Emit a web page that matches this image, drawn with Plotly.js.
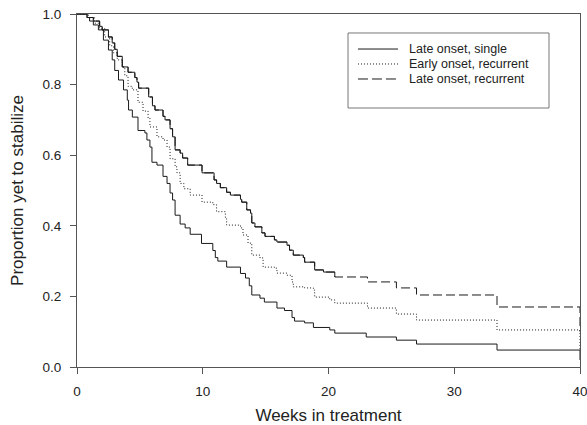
<!DOCTYPE html>
<html>
<head>
<meta charset="utf-8">
<script src="https://cdn.plot.ly/plotly-3.0.1.min.js"></script>
<style>html,body{margin:0;padding:0;background:#fff;}#chart{width:587px;height:425px;}</style>
</head>
<body>
<div id="chart"></div>
<script>
// Late onset, single (solid)
const weeksSingle = [0, 0.8, 1.0, 1.3, 1.7, 2.1, 2.5, 2.8, 3.0, 3.3, 3.7, 4.0, 4.1, 4.4, 4.85, 5.4, 5.56, 5.8, 5.96, 6.36, 6.84, 7.16, 7.4, 7.6, 7.8, 8.2, 8.6, 9.0, 9.9, 10.8, 11.0, 11.2, 11.9, 13.0, 13.4, 13.7, 13.9, 14.55, 14.9, 15.9, 16.5, 17.1, 17.3, 18.1, 18.8, 20.1, 20.5, 23.0, 25.4, 27.0, 33.4, 40];
const propSingle  = [1.0, 0.99, 0.98, 0.969, 0.955, 0.926, 0.898, 0.87, 0.84, 0.813, 0.785, 0.756, 0.728, 0.708, 0.67, 0.663, 0.643, 0.623, 0.58, 0.572, 0.54, 0.52, 0.493, 0.473, 0.43, 0.405, 0.394, 0.376, 0.35, 0.33, 0.31, 0.30, 0.283, 0.265, 0.252, 0.23, 0.204, 0.195, 0.184, 0.167, 0.16, 0.14, 0.13, 0.125, 0.112, 0.105, 0.096, 0.085, 0.076, 0.065, 0.048, 0.02];

// Early onset, recurrent (dotted)
const weeksEarly = [0, 0.9, 1.4, 1.8, 2.2, 2.6, 2.9, 3.2, 3.6, 3.8, 4.06, 4.4, 4.85, 5.25, 5.65, 5.8, 6.36, 6.84, 7.16, 7.4, 7.8, 7.95, 8.2, 8.5, 9.0, 9.94, 10.8, 11.1, 11.8, 11.9, 13.0, 13.2, 13.6, 13.9, 14.55, 14.8, 15.7, 15.9, 16.7, 17.1, 17.2, 18.1, 18.8, 18.9, 20.1, 20.5, 23.1, 25.4, 27.0, 33.4, 40];
const propEarly  = [1.0, 0.99, 0.974, 0.96, 0.935, 0.91, 0.89, 0.87, 0.85, 0.825, 0.795, 0.785, 0.75, 0.725, 0.705, 0.68, 0.652, 0.643, 0.623, 0.59, 0.567, 0.55, 0.52, 0.505, 0.487, 0.467, 0.46, 0.44, 0.42, 0.402, 0.394, 0.374, 0.351, 0.317, 0.309, 0.283, 0.28, 0.266, 0.26, 0.241, 0.227, 0.224, 0.218, 0.198, 0.19, 0.181, 0.167, 0.15, 0.133, 0.105, 0.05];

// Late onset, recurrent (dashed)
const weeksRecur = [0, 0.8, 1.3, 1.8, 2.0, 2.5, 2.8, 3.0, 3.2, 3.6, 4.06, 4.6, 4.77, 4.9, 5.7, 6.0, 6.2, 6.84, 7.0, 7.4, 7.6, 7.8, 8.2, 8.4, 8.8, 9.94, 10.9, 11.1, 11.4, 11.9, 12.2, 13.0, 13.1, 13.5, 13.8, 13.9, 14.15, 14.7, 14.95, 15.7, 15.9, 16.7, 16.9, 17.2, 18.0, 18.1, 18.9, 19.6, 20.5, 23.1, 25.4, 27.0, 33.4, 40];
const propRecur  = [1.0, 0.99, 0.98, 0.965, 0.955, 0.935, 0.918, 0.9, 0.88, 0.85, 0.835, 0.82, 0.807, 0.79, 0.765, 0.74, 0.728, 0.71, 0.7, 0.675, 0.652, 0.615, 0.606, 0.592, 0.572, 0.55, 0.53, 0.52, 0.508, 0.495, 0.487, 0.475, 0.467, 0.445, 0.436, 0.408, 0.397, 0.38, 0.37, 0.36, 0.354, 0.345, 0.331, 0.317, 0.31, 0.297, 0.275, 0.269, 0.255, 0.241, 0.224, 0.204, 0.17, 0.1];

const seriesNames = ["Late onset, single", "Early onset, recurrent", "Late onset, recurrent"];
const xTicks = [0, 10, 20, 30, 40];
const yTicks = [0.0, 0.2, 0.4, 0.6, 0.8, 1.0];

// the dense early part of the dashed curve looks solid in the original
const denseEnd = weeksRecur.indexOf(20.5) + 1;

const ink = "#1a1a1a";
const dashes = ["solid", "1px,2px", "9px,4px"];
const traces = [
  {x: weeksSingle, y: propSingle, name: seriesNames[0], mode: "lines", showlegend: false,
   line: {shape: "hv", color: ink, width: 1, dash: dashes[0]}},
  {x: weeksEarly, y: propEarly, name: seriesNames[1], mode: "lines", showlegend: false,
   line: {shape: "hv", color: ink, width: 1, dash: dashes[1]}},
  {x: weeksRecur, y: propRecur, name: seriesNames[2], mode: "lines", showlegend: false,
   line: {shape: "hv", color: ink, width: 1, dash: dashes[2]}},
  {x: weeksRecur.slice(0, denseEnd), y: propRecur.slice(0, denseEnd), showlegend: false, mode: "lines",
   hoverinfo: "skip", line: {shape: "hv", color: ink, width: 1}}
];

const font = {family: "Liberation Sans, Arial, Helvetica, sans-serif", color: "#222"};

// Legend box (paper coordinates), tight rows like the original
const legBox = {x0: 0.5388, x1: 0.9384, y0: 0.7337, y1: 0.9462};
const legRows = [0.9008, 0.8584, 0.8159];
const legLineX = [0.5586, 0.6382];
const legTextX = 0.658;

const shapes = [{type: "rect", xref: "paper", yref: "paper",
  x0: legBox.x0, x1: legBox.x1, y0: legBox.y0, y1: legBox.y1,
  line: {color: "#777", width: 1}, fillcolor: "#fff", layer: "above"}];
const annotations = [];
seriesNames.forEach((name, i) => {
  shapes.push({type: "line", xref: "paper", yref: "paper",
    x0: legLineX[0], x1: legLineX[1], y0: legRows[i], y1: legRows[i],
    line: {color: ink, width: 1, dash: i === 2 ? "10px,4px" : dashes[i]}, layer: "above"});
  annotations.push({xref: "paper", yref: "paper", x: legTextX, y: legRows[i],
    xanchor: "left", yanchor: "middle", showarrow: false, text: name, borderpad: 0,
    font: Object.assign({size: 12.5}, font)});
});

const layout = {
  width: 587, height: 425,
  margin: {l: 77, r: 7, t: 14, b: 58},
  paper_bgcolor: "#fff", plot_bgcolor: "#fff",
  font: Object.assign({size: 13}, font),
  showlegend: false,
  shapes: shapes,
  annotations: annotations,
  xaxis: {
    range: [0, 40], tickvals: xTicks, ticktext: xTicks.map(String),
    showgrid: false, zeroline: false,
    showline: true, linecolor: "#555", linewidth: 1, mirror: true,
    ticks: "outside", ticklen: 6, tickcolor: "#555", ticklabelstandoff: 6,
    ticklabeloverflow: "allow",
    tickfont: Object.assign({size: 13.5}, font),
    title: {text: "Weeks in treatment", font: Object.assign({size: 17}, font), standoff: 10}
  },
  yaxis: {
    range: [0, 1], tickvals: yTicks, ticktext: yTicks.map(v => v.toFixed(1)),
    showgrid: false, zeroline: false,
    showline: true, linecolor: "#555", linewidth: 1, mirror: true,
    ticks: "outside", ticklen: 6, tickcolor: "#555", ticklabelstandoff: 6,
    ticklabeloverflow: "allow",
    tickfont: Object.assign({size: 13.5}, font),
    title: {text: "Proportion yet to stabilize", font: Object.assign({size: 17}, font), standoff: 14}
  }
};

Plotly.newPlot("chart", traces, layout, {displayModeBar: false, staticPlot: true});
</script>
</body>
</html>
